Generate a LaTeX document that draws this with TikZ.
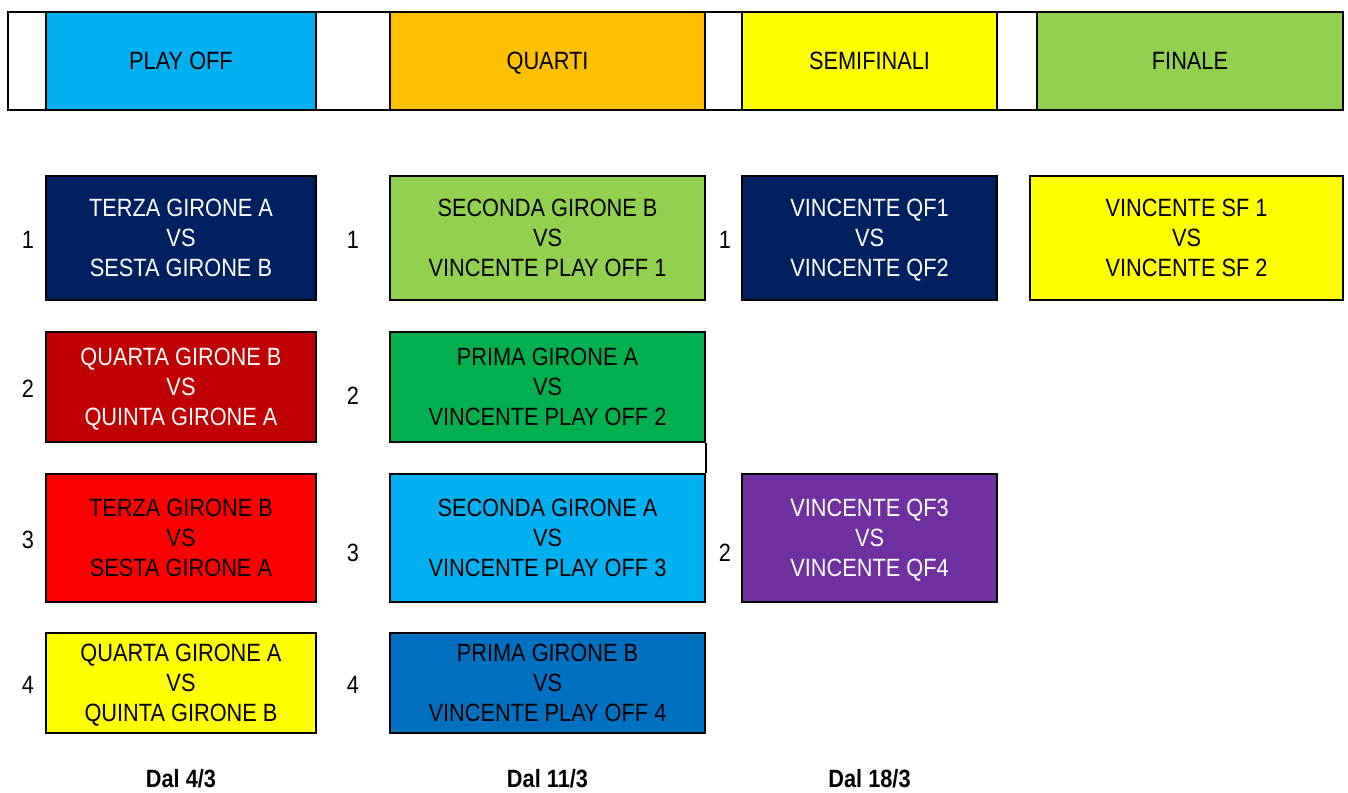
\documentclass[tikz,border=0pt]{standalone}
\usepackage{fontspec}
\setmainfont[FakeStretch=0.87]{Liberation Sans}
\definecolor{cblue}{HTML}{00B0F0}
\definecolor{corange}{HTML}{FFC000}
\definecolor{cyellow}{HTML}{FFFF00}
\definecolor{clgreen}{HTML}{92D050}
\definecolor{cnavy}{HTML}{002060}
\definecolor{cdred}{HTML}{C00000}
\definecolor{cred}{HTML}{FF0000}
\definecolor{cgreen}{HTML}{00B050}
\definecolor{cmblue}{HTML}{0070C0}
\definecolor{cpurple}{HTML}{7030A0}
\newcommand{\nodepth}[1]{\raisebox{0pt}[\height][0pt]{#1}}
\tikzset{
  txt/.style={font=\fontsize{12.5pt}{15pt}\selectfont},
  box/.style={draw=black, line width=1pt, inner sep=0pt, align=center, txt, text=black},
  hdr/.style={box, minimum height=49pt},
  num/.style={txt, inner sep=0pt},
  date/.style={font=\fontsize{12.5pt}{15pt}\selectfont\bfseries, inner sep=0pt},
  link/.style={draw=black, line width=1pt}
}
\begin{document}
\begin{tikzpicture}[x=0.5pt,y=-0.5pt]
\useasboundingbox (0,0) rectangle (1348,792);
% header
\draw[line width=1pt] (8,12) rectangle (1343,110);
\node[hdr, fill=cblue, minimum width=135pt] (h1) at (181,61) {PLAY OFF};
\node[hdr, fill=corange, minimum width=157.5pt] (h2) at (547.5,61) {\nodepth{QUARTI}};
\node[hdr, fill=cyellow, minimum width=127.5pt] (h3) at (869.5,61) {SEMIFINALI};
\node[hdr, fill=clgreen, minimum width=153pt] (h4) at (1190,61) {FINALE};
% play off
\node[box, fill=cnavy, text=white, minimum width=135pt, minimum height=62pt] (p1) at (181,238) {TERZA GIRONE A\\VS\\SESTA GIRONE B};
\node[box, fill=cdred, text=white, minimum width=135pt, minimum height=55pt] (p2) at (181,387) {QUARTA GIRONE B\\VS\\\smash{QUINTA GIRONE A}};
\node[box, fill=cred, minimum width=135pt, minimum height=64pt] (p3) at (181,538) {TERZA GIRONE B\\VS\\SESTA GIRONE A};
\node[box, fill=cyellow, minimum width=135pt, minimum height=50pt] (p4) at (181,683) {QUARTA GIRONE A\\VS\\\smash{QUINTA GIRONE B}};
% quarti
\node[box, fill=clgreen, minimum width=157.5pt, minimum height=62pt] (q1) at (547.5,238) {SECONDA GIRONE B\\VS\\VINCENTE PLAY OFF 1};
\node[box, fill=cgreen, minimum width=157.5pt, minimum height=55pt] (q2) at (547.5,387) {PRIMA GIRONE A\\VS\\VINCENTE PLAY OFF 2};
\node[box, fill=cblue, minimum width=157.5pt, minimum height=64pt] (q3) at (547.5,538) {SECONDA GIRONE A\\VS\\VINCENTE PLAY OFF 3};
\node[box, fill=cmblue, minimum width=157.5pt, minimum height=50pt] (q4) at (547.5,683) {PRIMA GIRONE B\\VS\\VINCENTE PLAY OFF 4};
% semifinali
\node[box, fill=cnavy, text=white, minimum width=127.5pt, minimum height=62pt] (s1) at (869.5,238) {VINCENTE QF1\\VS\\\smash{VINCENTE QF2}};
\node[box, fill=cpurple, text=white, minimum width=127.5pt, minimum height=64pt] (s2) at (869.5,538) {VINCENTE QF3\\VS\\\smash{VINCENTE QF4}};
% finale
\node[box, fill=cyellow, minimum width=156.5pt, minimum height=62pt] (f1) at (1186.5,238) {VINCENTE SF 1\\VS\\VINCENTE SF 2};
% connector
\draw[link] (q2.south east) -- (q3.north east);
% numbers
\node[num] (n11) at (28,240) {1};
\node[num] (n12) at (28,389) {2};
\node[num] (n13) at (28,540) {3};
\node[num] (n14) at (28,685) {4};
\node[num] (n21) at (353,240) {1};
\node[num] (n22) at (353,396) {2};
\node[num] (n23) at (353,553) {3};
\node[num] (n24) at (353,685) {4};
\node[num] (n31) at (725,240) {1};
\node[num] (n32) at (725,553) {2};
% dates
\node[date] (d1) at (181,779) {Dal 4/3};
\node[date] (d2) at (547.5,779) {Dal 11/3};
\node[date] (d3) at (869.5,779) {Dal 18/3};
\end{tikzpicture}
\end{document}
